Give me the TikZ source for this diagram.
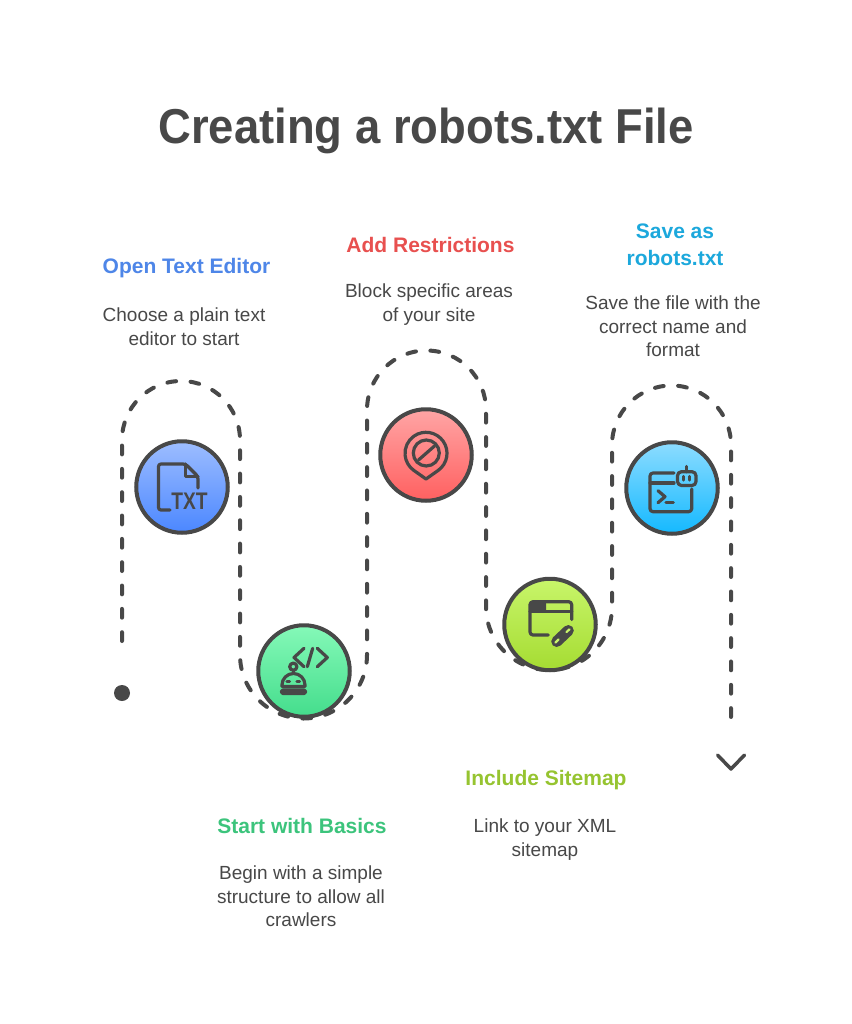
\documentclass[tikz,border=0pt]{standalone}
\usepackage{fontspec}
\usetikzlibrary{calc}
\setmainfont{Liberation Sans}
\definecolor{inkgray}{HTML}{484848}
\definecolor{openblue}{HTML}{4E86E8}
\definecolor{basicgreen}{HTML}{3CC47C}
\definecolor{blockred}{HTML}{E8504F}
\definecolor{linklime}{HTML}{96C430}
\definecolor{savecyan}{HTML}{1CA8DC}
\definecolor{opentop}{HTML}{9DBDFF}
\definecolor{openlow}{HTML}{4B87FF}
\definecolor{basictop}{HTML}{85F9B8}
\definecolor{basiclow}{HTML}{44DD8C}
\definecolor{blocktop}{HTML}{FFA5A5}
\definecolor{blocklow}{HTML}{FF6060}
\definecolor{linktop}{HTML}{C8F56A}
\definecolor{linklow}{HTML}{A5DC32}
\definecolor{savetop}{HTML}{8DDCFF}
\definecolor{savelow}{HTML}{14B9FF}
\tikzset{
	route/.style={line width=4pt, color=inkgray, line cap=round, dash pattern=on 8.8pt off 14.53pt},
	stepdisc/.style={circle, draw=inkgray, line width=4pt, minimum size=91.5pt, inner sep=0pt},
	iconline/.style={line width=3.2pt, color=inkgray, line cap=round, line join=round},
	headline/.style={font=\fontsize{21}{27}\selectfont\bfseries, align=center},
	bodytext/.style={font=\fontsize{19}{23.6}\selectfont, text=inkgray, align=center}
}

\begin{document}
\begin{tikzpicture}[x=1pt, y=-1pt]
			%%%%% START %%%%%
			
			\useasboundingbox (0, 0) rectangle (851, 1024);
			\fill[white] (0, 0) rectangle (851, 1024);
			
			\node[font=\fontsize{49}{56}\selectfont\bfseries, text=inkgray, xscale=0.927] (maintitle) at (426, 131) {Creating a robots.txt File};
			
			\coordinate (routestart) at (122, 641);
			\coordinate (routeend) at (731, 725);
			\draw[route] (routestart) -- (122, 440) arc (180:360:59) -- (240, 655) arc (180:0:63.5) -- (367, 410) arc (180:360:59.5) -- (486, 607) arc (180:0:63) -- (612, 445) arc (180:360:59.5) -- (routeend);
			
			\node[circle, fill=inkgray, minimum size=16pt, inner sep=0pt] (startdot) at (122, 693) {};
			\draw[line width=3.5pt, color=inkgray, line cap=round, line join=round] (717.5, 755) -- (731, 769) -- (744.5, 755);
			
			\node[stepdisc, top color=opentop, bottom color=openlow] (opendisc) at (182, 487) {};
			\node[stepdisc, top color=basictop, bottom color=basiclow] (basicdisc) at (304, 671) {};
			\node[stepdisc, top color=blocktop, bottom color=blocklow] (blockdisc) at (426, 455) {};
			\node[stepdisc, top color=linktop, bottom color=linklow] (linkdisc) at (550, 624.5) {};
			\node[stepdisc, top color=savetop, bottom color=savelow] (savedisc) at (672, 488) {};
			
			%%%%% ICONS %%%%%
			
			\begin{scope}[shift={(opendisc.center)}]
				\draw[iconline, rounded corners=2.5pt] (-12, 23) -- (-23.5, 23) -- (-23.5, -23) -- (3.5, -23) -- (16, -10.5) -- (16, 1);
				\draw[iconline] (3.5, -23) -- (3.5, -10.5) -- (16, -10.5);
				\node[font=\fontsize{24}{24}\selectfont\bfseries, text=inkgray, xscale=0.8, inner sep=0pt] (txtmark) at (7.5, 14.3) {TXT};
			\end{scope}
			
			\begin{scope}[shift={(basicdisc.center)}]
				\draw[iconline] (0, -22.7) -- (-10, -13.5) -- (0, -4.3);
				\draw[iconline] (8.7, -22.7) -- (3.3, -4.3);
				\draw[iconline] (13.3, -22.7) -- (23.3, -13.5) -- (13.3, -4.3);
				\draw[iconline] (-10.7, -4.3) circle (3.6);
				\draw[iconline] (-10.5, -0.5) -- (-10.5, 2);
				\draw[iconline] (-22, 15.5) -- (-22, 14) arc (180:360:11.5) -- (1, 15.5) -- cycle;
				\draw[iconline, fill=inkgray, rounded corners=1.5pt] (-22.5, 19) rectangle (1.5, 22.5);
				\draw[iconline] (-17, 10.7) -- (-14.5, 10.7);
				\draw[iconline] (-7, 10.7) -- (-4.5, 10.7);
			\end{scope}
			
			\begin{scope}[shift={(blockdisc.center)}]
				\draw[iconline] (0, 24) -- ($(0, -1.7)+(54.8:21)$) arc (54.8:-234.8:21) -- cycle;
				\draw[iconline] (0.3, -2) circle (13);
				\draw[iconline] (-7.5, 5) -- (8.5, -9);
			\end{scope}
			
			\begin{scope}[shift={(linkdisc.center)}]
				\fill[inkgray, rounded corners=2pt] (-20, -23) rectangle (-4, -12.5);
				\draw[iconline, rounded corners=3pt] (-1.7, 10.5) -- (-20, 10.5) -- (-20, -22.8) -- (21.7, -22.8) -- (21.7, -5);
				\draw[iconline] (-20, -12.8) -- (21.7, -12.8);
				\draw[line width=11pt, color=inkgray, line cap=round] (6.7, 17) -- (18.3, 6);
				\draw[line width=2.2pt, color=linktop, line cap=round] (5.5, 18) -- (8.5, 15);
				\draw[line width=2.2pt, color=linktop, line cap=round] (16.5, 7.5) -- (19.5, 4.8);
			\end{scope}
			
			\begin{scope}[shift={(savedisc.center)}]
				\draw[iconline, rounded corners=3pt] (2, -15) -- (-22, -15) -- (-22, 23.7) -- (19.7, 23.7) -- (19.7, 1);
				\draw[iconline] (-22, -5) -- (2, -5);
				\draw[iconline] (-14, 2.7) -- (-7, 8.7) -- (-14, 14.7);
				\draw[iconline] (-6, 14.3) -- (1.3, 14.3);
				\draw[iconline, rounded corners=4pt] (5.5, -16.3) rectangle (24, -2.5);
				\draw[iconline] (14.7, -16.3) -- (14.7, -21.5);
				\draw[iconline] (11.5, -11.5) -- (11.5, -8);
				\draw[iconline] (17.8, -11.5) -- (17.8, -8);
			\end{scope}
			
			%%%%% LABELS %%%%%
			
			\node[headline, text=openblue] (openhead) at (186.5, 268.5) {Open Text Editor};
			\node[bodytext] (openbody) at (184, 326.5) {Choose a plain text\\editor to start};
			
			\node[headline, text=blockred] (blockhead) at (430.5, 244.5) {Add Restrictions};
			\node[bodytext] (blockbody) at (429, 304.5) {Block specific areas\\of your site};
			
			\node[headline, text=savecyan] (savehead) at (675, 245) {Save as\\robots.txt};
			\node[bodytext] (savebody) at (673, 326.5) {Save the file with the\\correct name and\\format};
			
			\node[headline, text=basicgreen] (basichead) at (302, 826) {Start with Basics};
			\node[bodytext] (basicbody) at (301, 896.5) {Begin with a simple\\structure to allow all\\crawlers};
			
			\node[headline, text=linklime] (linkhead) at (546, 780.5) {Include Sitemap};
			\node[bodytext] (linkbody) at (545, 839.5) {Link to your XML\\sitemap};
			
			%%%%% END %%%%%
		\end{tikzpicture}
\end{document}
